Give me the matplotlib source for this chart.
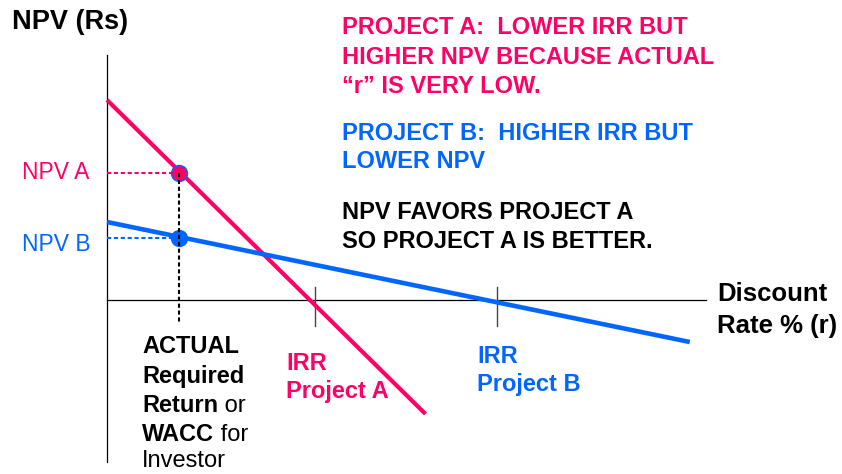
import matplotlib.pyplot as plt

plt.rcParams['font.family'] = ['Liberation Sans', 'DejaVu Sans']

PINK = "#ff0066"
BLUE = "#0066ff"

# NPV profiles (discount rate %, NPV)
rate_a = [0.0, 18.2]
npv_a = [10.0, -5.7]
rate_b = [0.0, 33.3]
npv_b = [3.9, -2.1]

# actual required return and NPV of each project at that rate
actual_r = 4.1
npv_at_r = [6.35, 3.1]

# internal rates of return
irr_a = 11.9
irr_b = 22.3

W, H = 842, 474
fig = plt.figure(figsize=(W / 100, H / 100), dpi=100)
ax = fig.add_axes([0, 0, 1, 1])
# origin of the sketch sits at pixel (107, 300); 17.5 px per % and 20 px per NPV unit
ax.set_xlim(-107 / 17.5, (W - 107) / 17.5)
ax.set_ylim((300 - H) / 20, 300 / 20)
ax.axis("off")


def px(x, y):
    return x / W, 1 - y / H


# axes lines
ax.plot([0, 0], [(300 - 462) / 20, (300 - 55) / 20], color="black", lw=0.9)
ax.plot([0, (706 - 107) / 17.5], [0, 0], color="black", lw=0.9)

# IRR tick marks
for irr in (irr_a, irr_b):
    ax.plot([irr, irr], [0.65, -1.3], color="#444444", lw=1.0)

# NPV lines
ax.plot(rate_a, npv_a, color=PINK, lw=3.0, solid_capstyle="butt", zorder=3)
ax.plot(rate_b, npv_b, color=BLUE, lw=3.3, solid_capstyle="butt", zorder=3)

ax.plot(actual_r, npv_at_r[0], "o", ms=11.5, mfc=PINK, mec=BLUE, mew=1.0, zorder=5)
ax.plot(actual_r, npv_at_r[1], "o", ms=11.5, mfc=BLUE, mec=BLUE, zorder=5)

# guide lines to the actual required return
dash = (0, (2, 1.3))
ax.plot([0, actual_r], [npv_at_r[0]] * 2, color=PINK, lw=1.5, ls=dash)
ax.plot([0, actual_r], [npv_at_r[1]] * 2, color=BLUE, lw=1.5, ls=dash)
ax.plot([actual_r, actual_r], [npv_at_r[0], -1.2], color="black", lw=1.5,
        ls=dash, zorder=6)

# labels
fig.text(*px(12, 29), "NPV (Rs)", fontsize=19.5, fontweight="bold", va="baseline")
fig.text(*px(22, 179), "NPV A", fontsize=16.5, color=PINK, va="baseline")
fig.text(*px(22, 251), "NPV B", fontsize=16.5, color=BLUE, va="baseline")

fig.text(*px(717, 301), "Discount", fontsize=18.5, fontweight="bold", va="baseline")
fig.text(*px(717, 333), "Rate % (r)", fontsize=18.5, fontweight="bold", va="baseline")

fig.text(*px(286, 370), "IRR", fontsize=17, fontweight="bold", color=PINK, va="baseline")
fig.text(*px(286, 398), "Project A", fontsize=17, fontweight="bold", color=PINK, va="baseline")
fig.text(*px(477, 363), "IRR", fontsize=17, fontweight="bold", color=BLUE, va="baseline")
fig.text(*px(477, 391), "Project B", fontsize=17, fontweight="bold", color=BLUE, va="baseline")

# notes on the right
notes = [
    ("PROJECT A:  LOWER IRR BUT", PINK, 34),
    ("HIGHER NPV BECAUSE ACTUAL", PINK, 64),
    ("\u201cr\u201d IS VERY LOW.", PINK, 93),
    ("PROJECT B:  HIGHER IRR BUT", BLUE, 140),
    ("LOWER NPV", BLUE, 168),
    ("NPV FAVORS PROJECT A", "black", 219),
    ("SO PROJECT A IS BETTER.", "black", 248),
]
for txt, col, y in notes:
    fig.text(*px(342, y), txt, fontsize=17, fontweight="bold", color=col, va="baseline")

# required return caption, bold words followed by regular ones
caption = [
    ("ACTUAL", "", 353),
    ("Required", "", 383),
    ("Return", " or", 412),
    ("WACC", " for", 441),
    ("", "Investor", 467),
]
fig.canvas.draw()
for bold, plain, y in caption:
    t = fig.text(*px(142, y), bold, fontsize=17, fontweight="bold", va="baseline")
    if plain:
        if bold:
            ax.annotate(plain, xy=(1, 0), xycoords=t, fontsize=17, va="bottom")
        else:
            fig.text(*px(142, y), plain, fontsize=17, va="baseline")

fig.savefig("out.png", dpi=100)
